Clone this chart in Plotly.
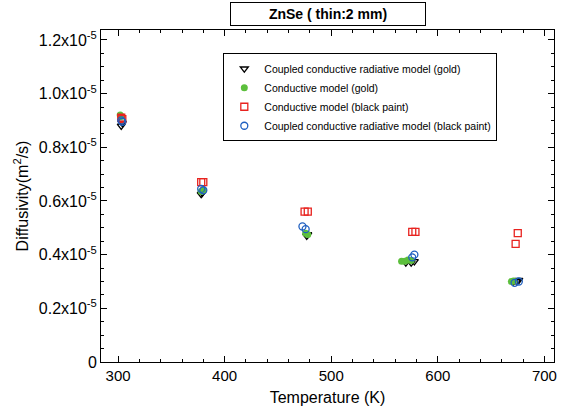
import plotly.graph_objects as go

# Data (Temperature K, diffusivity m^2/s)
t_ccr_gold = [303, 304, 378, 379, 477, 478, 570, 575, 578, 671, 674, 676]
d_ccr_gold = [0.88e-5, 0.89e-5, 0.625e-5, 0.63e-5, 0.47e-5, 0.475e-5, 0.37e-5, 0.37e-5, 0.375e-5, 0.30e-5, 0.30e-5, 0.305e-5]

t_cond_gold = [302, 303, 378, 380, 476, 478, 566, 569, 572, 575, 669, 671]
d_cond_gold = [0.92e-5, 0.915e-5, 0.635e-5, 0.64e-5, 0.48e-5, 0.475e-5, 0.375e-5, 0.375e-5, 0.38e-5, 0.378e-5, 0.30e-5, 0.302e-5]

t_cond_black = [303, 304, 378, 380, 475, 478, 576, 579, 673, 675]
d_cond_black = [0.91e-5, 0.905e-5, 0.67e-5, 0.67e-5, 0.56e-5, 0.56e-5, 0.485e-5, 0.485e-5, 0.44e-5, 0.48e-5]

t_ccr_black = [303, 304, 378, 380, 473, 476, 576, 578, 672, 676]
d_ccr_black = [0.90e-5, 0.895e-5, 0.645e-5, 0.64e-5, 0.505e-5, 0.495e-5, 0.39e-5, 0.40e-5, 0.295e-5, 0.30e-5]

x_ticks = [300, 400, 500, 600, 700]
y_ticks = [0, 0.2e-5, 0.4e-5, 0.6e-5, 0.8e-5, 1.0e-5, 1.2e-5]
y_labels = ["0", "0.2x10<sup>-5</sup>", "0.4x10<sup>-5</sup>", "0.6x10<sup>-5</sup>",
            "0.8x10<sup>-5</sup>", "1.0x10<sup>-5</sup>", "1.2x10<sup>-5</sup>"]

FONT = "Liberation Sans, Arial, sans-serif"

fig = go.Figure()
fig.add_trace(go.Scatter(x=t_ccr_gold, y=d_ccr_gold, mode="markers",
                         name="Coupled conductive radiative model (gold)",
                         marker=dict(symbol="triangle-down-open", size=7, color="black",
                                     line=dict(width=1.3, color="black"))))
fig.add_trace(go.Scatter(x=t_cond_gold, y=d_cond_gold, mode="markers",
                         name="Conductive model (gold)",
                         marker=dict(symbol="circle", size=7, color="#5cbf3c",
                                     line=dict(width=0))))
fig.add_trace(go.Scatter(x=t_cond_black, y=d_cond_black, mode="markers",
                         name="Conductive model (black paint)",
                         marker=dict(symbol="square-open", size=7, color="#e8231f",
                                     line=dict(width=1.3, color="#e8231f"))))
fig.add_trace(go.Scatter(x=t_ccr_black, y=d_ccr_black, mode="markers",
                         name="Coupled conductive radiative model (black paint)",
                         marker=dict(symbol="circle-open", size=7, color="#1f5fc0",
                                     line=dict(width=1.3, color="#1f5fc0"))))

axis_common = dict(showline=True, linecolor="black", linewidth=1, mirror="ticks",
                   ticks="inside", ticklen=6, tickcolor="black", showgrid=False,
                   zeroline=False)

fig.update_layout(
    width=572, height=416,
    margin=dict(l=101, r=18, t=30, b=54),
    paper_bgcolor="white", plot_bgcolor="white",
    font=dict(family=FONT, color="black"),
    showlegend=True,
    legend=dict(x=0.27, y=0.93, xanchor="left", yanchor="top",
                bordercolor="black", borderwidth=1, bgcolor="white",
                font=dict(size=10.5, family=FONT), tracegroupgap=0,
                itemsizing="trace", itemwidth=30),
    xaxis=dict(range=[284, 709], tickvals=x_ticks,
               tickfont=dict(size=15, color="black", family=FONT),
               title=dict(text="Temperature (K)", font=dict(size=16, family=FONT), standoff=8),
               minor=dict(ticks="inside", ticklen=3, dtick=20, tickcolor="black"),
               **axis_common),
    yaxis=dict(range=[0, 1.237e-5], tickvals=y_ticks, ticktext=y_labels,
               tickfont=dict(size=16, color="black", family=FONT),
               title=dict(text="Diffusivity(m<sup>2</sup>/s)", font=dict(size=16, family=FONT), standoff=6),
               minor=dict(ticks="inside", ticklen=3, dtick=0.05e-5, tickcolor="black"),
               **axis_common),
    annotations=[dict(text="<b>ZnSe ( thin:2 mm)</b>", xref="paper", yref="paper",
                      x=0.502, y=1.0, xanchor="center", yanchor="bottom", yshift=4,
                      showarrow=False, font=dict(size=14, family=FONT, color="black"),
                      bordercolor="black", borderwidth=1, borderpad=3, bgcolor="white",
                      width=188)],
)

fig.write_html("out.html")
